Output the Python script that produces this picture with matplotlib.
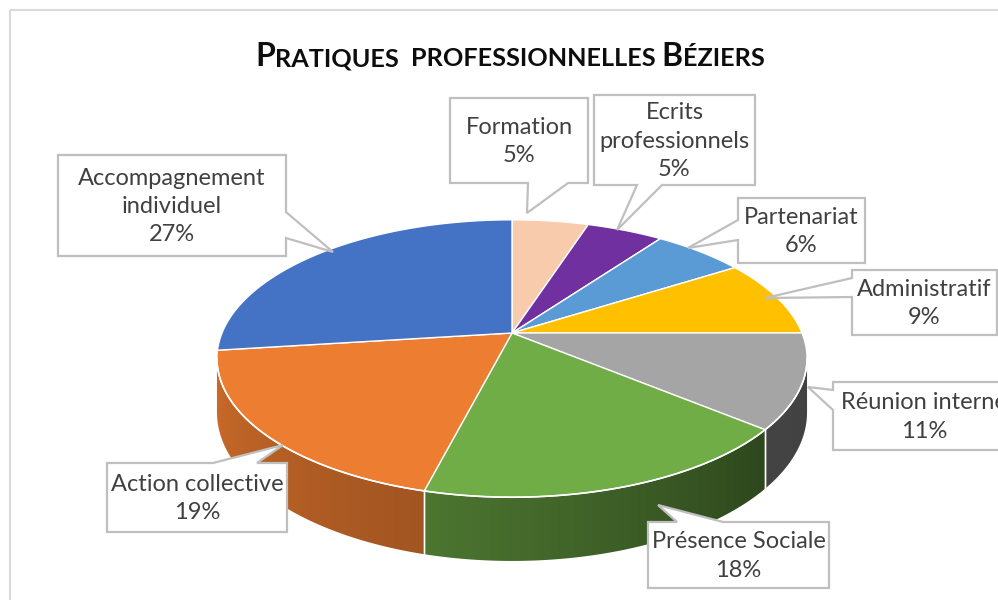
import numpy as np
import matplotlib.pyplot as plt
from matplotlib.patches import Polygon, Rectangle
from matplotlib.offsetbox import TextArea, HPacker, AnnotationBbox

plt.rcParams["font.family"] = ["Lato", "DejaVu Sans"]

# chart data
labels = ["Formation", "Ecrits\nprofessionnels", "Partenariat", "Administratif",
          "Réunion interne", "Présence Sociale", "Action collective",
          "Accompagnement\nindividuel"]
values = [5, 5, 6, 9, 11, 18, 19, 27]
colors = ["#F8CBAD", "#7030A0", "#5B9BD5", "#FFC000",
          "#A5A5A5", "#70AD47", "#ED7D31", "#4472C4"]

# callout layout in pixels: box (x0, y0, x1, y1), side of the pointer, pointer base, pointer tip
callout_boxes = [(450, 98, 588, 183), (594, 95, 755, 185), (738, 198, 865, 263),
                 (852, 270, 997, 335), (833, 382, 1015, 450), (648, 522, 829, 588),
                 (107, 463, 287, 532), (58, 155, 286, 256)]
callout_sides = ["bottom", "bottom", "left", "left", "left", "top", "top", "right"]
callout_bases = [(528, 568), (637, 662), (220, 240), (278, 297), (390, 410),
                 (677, 723), (213, 257), (212, 238)]
callout_tips = [(527, 213), (617, 230), (688, 248), (765, 298), (808, 387),
                (658, 505), (283, 445), (333, 252)]

# pie geometry (pixels), simple perspective
CX, CY = 512, 333
A, B, K, DEPTH = 290, 134, 0.184, 52
VIS_LO, VIS_HI = 100.6, 259.4


def project(theta_deg, drop=0.0):
    t = np.radians(theta_deg)
    u, w = np.sin(t), -np.cos(t)
    f = 1.0 / (1.0 - K * w)
    return CX + A * u * f, CY + B * w * f + drop * f


def rgb(hex_color):
    return np.array([int(hex_color[i:i + 2], 16) for i in (1, 3, 5)]) / 255.0


def wall_light(theta):
    return np.interp(theta, [100, 130, 194, 260], [0.40, 0.41, 0.68, 0.86])


def callout_poly(box, side, base, tip):
    x0, y0, x1, y1 = box
    a, b = base
    if side == "top":
        return [(x0, y0), (a, y0), tip, (b, y0), (x1, y0), (x1, y1), (x0, y1)]
    if side == "right":
        return [(x0, y0), (x1, y0), (x1, a), tip, (x1, b), (x1, y1), (x0, y1)]
    if side == "bottom":
        return [(x0, y0), (x1, y0), (x1, y1), (b, y1), tip, (a, y1), (x0, y1)]
    return [(x0, y0), (x1, y0), (x1, y1), (x0, y1), (x0, b), tip, (x0, a)]


fig = plt.figure(figsize=(9.98, 6), dpi=100)
ax = fig.add_axes([0, 0, 1, 1])

# chart area border
ax.add_patch(Rectangle((10, 10), 1000, 600, fill=False, edgecolor="#d9d9d9", lw=1.5))

angles = np.concatenate([[0], np.cumsum(values) / np.sum(values) * 360])

# x -> angle lookup along the visible front rim
front_t = np.linspace(VIS_LO, VIS_HI, 2000)
front_x = project(front_t)[0]

# side walls (front half only) with a horizontal shading gradient
for i, color in enumerate(colors):
    t0, t1 = max(angles[i], VIS_LO), min(angles[i + 1], VIS_HI)
    if t1 <= t0:
        continue
    ts = np.linspace(t0, t1, 120)
    top = np.column_stack(project(ts))
    bot = np.column_stack(project(ts, DEPTH))
    wall = Polygon(np.vstack([top, bot[::-1]]), closed=True, facecolor="none",
                   edgecolor="none")
    ax.add_patch(wall)
    xmin, xmax = np.vstack([top, bot])[:, 0].min(), np.vstack([top, bot])[:, 0].max()
    ymin, ymax = np.vstack([top, bot])[:, 1].min(), np.vstack([top, bot])[:, 1].max()
    cols = np.linspace(xmin, xmax, 200)
    th = np.interp(cols, front_x[::-1], front_t[::-1])
    img = rgb(color)[None, None, :] * wall_light(th)[None, :, None]
    im = ax.imshow(img, extent=(xmin - 1, xmax + 1, ymax + 1, ymin - 1), aspect="auto",
                   interpolation="bilinear")
    im.set_clip_path(wall)
    for t in (angles[i], angles[i + 1]):
        if VIS_LO < t < VIS_HI:
            (xa, ya), (xb, yb) = project(t), project(t, DEPTH)
            ax.plot([xa, xb], [ya, yb], color="white", lw=1.0)

# top faces
for i, color in enumerate(colors):
    arc = [project(t) for t in np.linspace(angles[i], angles[i + 1], 80)]
    ax.add_patch(Polygon([(CX, CY)] + arc, closed=True, facecolor=color,
                         edgecolor="white", lw=1.0, joinstyle="round"))
rim = project(np.linspace(VIS_LO, VIS_HI, 300))
ax.plot(rim[0], rim[1], color="white", lw=1.2)

# callouts
for i, lab in enumerate(labels):
    pts = callout_poly(callout_boxes[i], callout_sides[i], callout_bases[i], callout_tips[i])
    ax.add_patch(Polygon(pts, closed=True, facecolor="white", edgecolor="#bfbfbf",
                         lw=1.6, zorder=5))
    x0, y0, x1, y1 = callout_boxes[i]
    ax.text((x0 + x1) / 2, (y0 + y1) / 2 + 1, f"{lab}\n{values[i]}%", ha="center",
            va="center", multialignment="center", fontsize=17, color="#404040",
            linespacing=1.42, zorder=6)

# title in small caps
big, small = 23, 18.2
parts = [("P", big), ("RATIQUES  ", small), ("PROFESSIONNELLES ", small),
         ("B", big), ("ÉZIERS", small)]
areas = [TextArea(s, textprops=dict(fontsize=fs, fontweight="bold", color="#0d0d0d"))
         for s, fs in parts]
title = HPacker(children=areas, align="baseline", pad=0, sep=0)
ax.add_artist(AnnotationBbox(title, (510, 57), frameon=False, box_alignment=(0.5, 0.5),
                             xycoords="data"))

ax.set_xlim(0, 998)
ax.set_ylim(600, 0)
ax.axis("off")
fig.savefig("out.png", dpi=100)
